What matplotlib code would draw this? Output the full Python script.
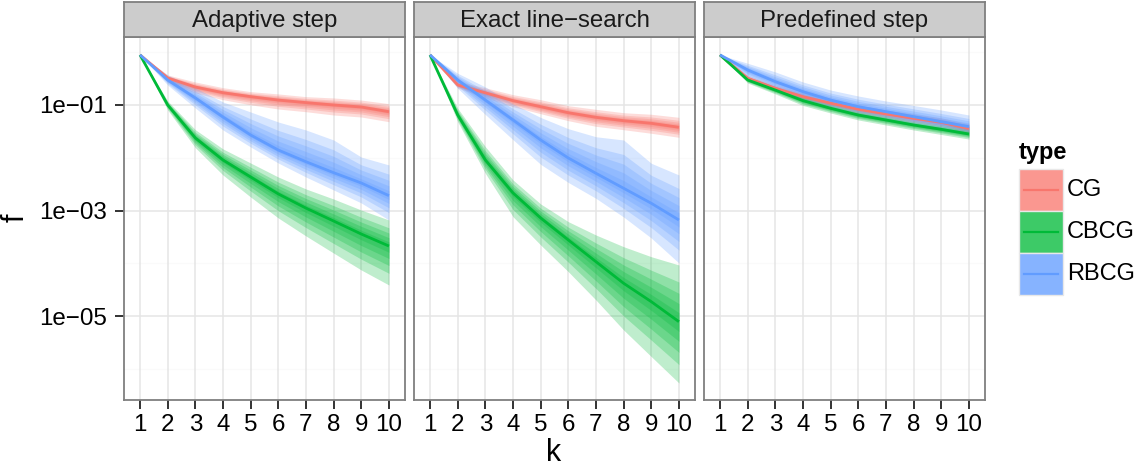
import matplotlib
matplotlib.use("Agg")
import matplotlib.pyplot as plt
import numpy as np
from matplotlib.patches import Rectangle
from matplotlib.lines import Line2D
from matplotlib.colors import to_rgb
from matplotlib.ticker import NullLocator

plt.rcParams['font.family'] = ['Liberation Sans', 'DejaVu Sans']

# ---------------- data ----------------
k = [1, 2, 3, 4, 5, 6, 7, 8, 9, 10]
facets = ["Adaptive step", "Exact line\u2212search", "Predefined step"]
types = ["CG", "CBCG", "RBCG"]
y_tick_values = [1e-5, 1e-3, 1e-1]
y_tick_labels = ["1e\u221205", "1e\u221203", "1e\u221201"]

# Adaptive step
adaptive_cg_med = [0.89, 0.325, 0.219, 0.171, 0.144, 0.124, 0.111, 0.100, 0.0916, 0.0746]
adaptive_cg_hi = [0.89, 0.371, 0.273, 0.213, 0.179, 0.162, 0.144, 0.136, 0.124, 0.106]
adaptive_cg_lo = [0.89, 0.273, 0.169, 0.126, 0.101, 0.0839, 0.0746, 0.0646, 0.0592, 0.0482]
adaptive_cbcg_med = [0.89, 0.100, 0.0237, 0.00906, 0.00431, 0.00206, 0.00111, 0.000632, 0.000358, 0.000212]
adaptive_cbcg_hi = [0.89, 0.119, 0.034, 0.0147, 0.00794, 0.00431, 0.00256, 0.00165, 0.00102, 0.00066]
adaptive_cbcg_lo = [0.89, 0.0804, 0.0155, 0.0047, 0.0018, 0.000721, 0.000329, 0.000156, 0.0000745, 0.0000387]
adaptive_rbcg_med = [0.89, 0.298, 0.136, 0.0592, 0.027, 0.0140, 0.00841, 0.00521, 0.00332, 0.00191]
adaptive_rbcg_hi = [0.89, 0.371, 0.210, 0.114, 0.0736, 0.0476, 0.0336, 0.0217, 0.0103, 0.0073]
adaptive_rbcg_lo = [0.89, 0.239, 0.0877, 0.0336, 0.016, 0.00794, 0.00431, 0.00245, 0.00139, 0.00066]

# Exact line-search
exact_cg_med = [0.89, 0.24, 0.17, 0.121, 0.0929, 0.0714, 0.0584, 0.0504, 0.045, 0.0378]
exact_cg_hi = [0.89, 0.28, 0.212, 0.157, 0.126, 0.097, 0.0828, 0.0714, 0.0667, 0.0584]
exact_cg_lo = [0.89, 0.21, 0.137, 0.0929, 0.0684, 0.0504, 0.0394, 0.034, 0.0291, 0.0244]
exact_cbcg_med = [0.89, 0.0646, 0.00906, 0.00215, 0.000721, 0.000276, 0.000107, 0.0000417, 0.0000187, 0.0000078]
exact_cbcg_hi = [0.89, 0.0866, 0.0162, 0.00379, 0.00133, 0.000614, 0.000343, 0.000206, 0.000133, 0.0000927]
exact_cbcg_lo = [0.89, 0.0482, 0.00507, 0.000762, 0.000222, 0.0000692, 0.0000201, 0.00000543, 0.0000017, 0.000000537]
exact_rbcg_med = [0.89, 0.298, 0.124, 0.052, 0.0217, 0.00988, 0.00507, 0.00264, 0.00137, 0.00066]
exact_rbcg_hi = [0.89, 0.399, 0.22, 0.105, 0.058, 0.0355, 0.025, 0.0217, 0.00785, 0.00471]
exact_rbcg_lo = [0.89, 0.207, 0.066, 0.022, 0.0075, 0.0034, 0.0017, 0.000753, 0.000301, 0.000101]

# Predefined step
predef_cg_med = [0.89, 0.321, 0.207, 0.144, 0.108, 0.0828, 0.0675, 0.056, 0.047, 0.0356]
predef_cg_hi = [0.89, 0.366, 0.239, 0.169, 0.127, 0.0979, 0.0804, 0.0675, 0.0568, 0.0437]
predef_cg_lo = [0.89, 0.285, 0.18, 0.122, 0.0916, 0.0705, 0.0568, 0.0466, 0.0391, 0.0294]
predef_cbcg_med = [0.89, 0.298, 0.192, 0.121, 0.0866, 0.0646, 0.052, 0.0418, 0.0346, 0.0282]
predef_cbcg_hi = [0.89, 0.34, 0.224, 0.145, 0.104, 0.0787, 0.0632, 0.0508, 0.0427, 0.0351]
predef_cbcg_lo = [0.89, 0.261, 0.162, 0.0979, 0.0705, 0.052, 0.0418, 0.0336, 0.0276, 0.0226]
predef_rbcg_med = [0.89, 0.461, 0.277, 0.179, 0.124, 0.0929, 0.0746, 0.06, 0.0482, 0.0388]
predef_rbcg_hi = [0.89, 0.618, 0.423, 0.273, 0.192, 0.148, 0.119, 0.0979, 0.0804, 0.0646]
predef_rbcg_lo = [0.89, 0.325, 0.192, 0.124, 0.0877, 0.0675, 0.0543, 0.0437, 0.0359, 0.0294]

panel_data = [
    {"CG": (adaptive_cg_med, adaptive_cg_lo, adaptive_cg_hi),
     "CBCG": (adaptive_cbcg_med, adaptive_cbcg_lo, adaptive_cbcg_hi),
     "RBCG": (adaptive_rbcg_med, adaptive_rbcg_lo, adaptive_rbcg_hi)},
    {"CG": (exact_cg_med, exact_cg_lo, exact_cg_hi),
     "CBCG": (exact_cbcg_med, exact_cbcg_lo, exact_cbcg_hi),
     "RBCG": (exact_rbcg_med, exact_rbcg_lo, exact_rbcg_hi)},
    {"CG": (predef_cg_med, predef_cg_lo, predef_cg_hi),
     "CBCG": (predef_cbcg_med, predef_cbcg_lo, predef_cbcg_hi),
     "RBCG": (predef_rbcg_med, predef_rbcg_lo, predef_rbcg_hi)},
]

# ---------------- style ----------------
colors = {"CG": "#F8766D", "CBCG": "#00BA38", "RBCG": "#619CFF"}
band_fracs = [1.0, 0.7, 0.5, 0.32, 0.16]
band_alpha = 0.25

W, H = 1143, 467
fig = plt.figure(figsize=(W / 100, H / 100), dpi=100)


def fx(px):
    return px / W


def fy(py):
    return 1 - py / H


panel_left = [124, 414, 704]
panel_w = 281
p_top, p_bot = 37, 400
strip_top = 2
border_col = "#7F7F7F"

for i, (left, title) in enumerate(zip(panel_left, facets)):
    ax = fig.add_axes([fx(left), fy(p_bot), panel_w / W, (p_bot - p_top) / H])
    ax.set_yscale("log")
    ax.set_ylim(10 ** -6.592, 10 ** 0.289)
    ax.set_xlim(0.42, 10.58)
    ax.set_xticks(k)
    ax.set_xticklabels([str(v) for v in k])
    ax.set_yticks(y_tick_values)
    ax.set_yticklabels(y_tick_labels)
    ax.yaxis.set_minor_locator(NullLocator())
    ax.xaxis.set_minor_locator(NullLocator())
    # grid
    for yv in [1.0, 1e-2, 1e-4, 1e-6]:
        ax.axhline(yv, color="#FAFAFA", lw=1.0, zorder=0)
    for yv in y_tick_values:
        ax.axhline(yv, color="#E5E5E5", lw=1.1, zorder=0.1)
    for xv in k:
        ax.axvline(xv, color="#E5E5E5", lw=1.1, zorder=0.1)

    data = panel_data[i]
    kk = np.array(k)
    for t in types:
        med, lo, hi = (np.array(a, dtype=float) for a in data[t])
        for fr in band_fracs:
            lo_b = med * (lo / med) ** fr
            hi_b = med * (hi / med) ** fr
            ax.fill_between(kk, lo_b, hi_b, color=colors[t], alpha=band_alpha,
                            lw=0, zorder=1)
    for t in types:
        med = data[t][0]
        ax.plot(kk, med, color=colors[t], lw=2.0, zorder=2, solid_capstyle="butt")

    for s in ax.spines.values():
        s.set_color(border_col)
        s.set_linewidth(1.3)
        s.set_zorder(5)
    ax.tick_params(axis="both", length=6.8, width=1.4, color="#333333",
                   labelsize=17.4, labelcolor="black")
    ax.tick_params(axis="x", pad=3.0)
    ax.tick_params(axis="y", pad=5.5)
    if i > 0:
        ax.tick_params(axis="y", left=False, labelleft=False)

    # strip
    sax = fig.add_axes([fx(left), fy(p_top), panel_w / W, (p_top - strip_top) / H])
    sax.set_facecolor("#CCCCCC")
    sax.set_xticks([])
    sax.set_yticks([])
    for s in sax.spines.values():
        s.set_color(border_col)
        s.set_linewidth(1.3)
    sax.text(0.5, 0.45, title, ha="center", va="center", fontsize=17.3,
             color="#1A1A1A", transform=sax.transAxes)

# axis titles
fig.text(fx(16), fy(218), "f", rotation=90, ha="center", va="center", fontsize=22)
fig.text(fx(554), fy(453), "k", ha="center", va="center", fontsize=22)

# legend
fig.text(fx(1019), fy(152), "type", ha="left", va="center", fontsize=17,
         fontweight="bold")
key_tops = [169, 211, 253]
key_h = 42
tot_alpha = 1 - (1 - band_alpha) ** len(band_fracs)
for t, y0 in zip(types, key_tops):
    c = np.array(to_rgb(colors[t]))
    blend = tot_alpha * c + (1 - tot_alpha) * np.ones(3)
    fig.add_artist(Rectangle((fx(1019), fy(y0 + key_h)), 44 / W, key_h / H,
                             transform=fig.transFigure, facecolor=blend,
                             edgecolor="#E8E8E8", lw=1.0))
    fig.add_artist(Line2D([fx(1024), fx(1058)], [fy(y0 + key_h / 2)] * 2,
                          transform=fig.transFigure, color=colors[t], lw=1.6))
    fig.text(fx(1067), fy(y0 + key_h / 2), t, ha="left", va="center", fontsize=17)

fig.savefig("out.png", dpi=100)
